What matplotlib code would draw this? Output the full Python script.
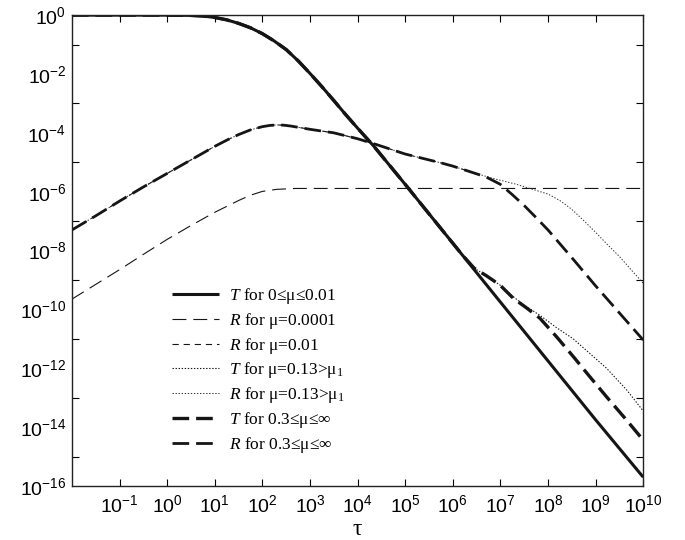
import numpy as np
import matplotlib
matplotlib.use('Agg')
import matplotlib.pyplot as plt
from matplotlib.ticker import FuncFormatter, NullFormatter, NullLocator

plt.rcParams['mathtext.fontset'] = 'custom'
plt.rcParams['mathtext.it'] = 'Liberation Serif:italic'
plt.rcParams['mathtext.default'] = 'regular'
plt.rcParams['lines.scale_dashes'] = False

# values, as log10(tau) / log10(value)
# T for 0<=mu<=0.01 (also the common start of the other T curves)
t_lx = [-2, 0, 0.5, 0.75, 1.0, 1.25, 1.5, 1.75, 2.0, 2.25, 2.5, 2.75, 3.0, 3.25, 3.5,
        3.75, 4.0, 4.35, 5.0, 6.0, 6.2, 7.0, 8.0, 9.0, 10.0]
t_ly = [0, 0, -0.01, -0.03, -0.08, -0.16, -0.28, -0.43, -0.63, -0.88, -1.17, -1.55, -1.98,
        -2.43, -2.9, -3.38, -3.84, -4.47, -5.75, -7.75, -8.15, -9.75, -11.75, -13.75, -15.7]
n_common_t = 21  # points up to log tau = 6.2

# T for mu=0.13 and for mu>=0.3, after they leave the solid curve
t13_lx = [6.2, 6.45, 6.7, 6.99, 7.27, 7.55, 7.83, 8.18, 8.53, 8.88, 9.23, 9.65, 10.0]
t13_ly = [-8.15, -8.6, -8.85, -9.17, -9.57, -9.91, -10.2, -10.62, -11.0, -11.5, -12.0, -12.73, -13.45]
t3_lx = [6.2, 6.45, 6.7, 6.99, 7.27, 7.55, 7.83, 8.18, 8.53, 8.88, 9.23, 9.65, 10.0]
t3_ly = [-8.15, -8.6, -8.85, -9.17, -9.62, -9.95, -10.3, -10.93, -11.6, -12.29, -12.97, -13.76, -14.44]

# R for mu=0.0001
r4_lx = [-2, -1.5, -1, -0.5, 0, 0.5, 1.0, 1.25, 1.5, 1.75, 2.0, 2.3, 2.7, 10.0]
r4_ly = [-9.65, -9.15, -8.65, -8.13, -7.62, -7.15, -6.7, -6.5, -6.3, -6.12, -5.99, -5.92, -5.89, -5.89]

# upper R curve shared by mu=0.01, 0.13 and >=0.3
r_lx = [-2, -1.5, -1, -0.5, 0, 0.5, 1.0, 1.25, 1.5, 1.75, 2.0, 2.15, 2.3, 2.45, 2.6, 3.0,
        3.5, 4.0, 4.4, 5.0, 5.4, 5.75, 6.0, 6.4]
r_ly = [-7.3, -6.82, -6.32, -5.84, -5.38, -4.92, -4.46, -4.25, -4.06, -3.9, -3.79, -3.75,
        -3.73, -3.74, -3.77, -3.88, -4.0, -4.2, -4.4, -4.72, -4.88, -5.02, -5.13, -5.34]

# tails of R
r13_lx = [6.4, 6.85, 7.34, 7.76, 8.0, 8.25, 8.5, 8.75, 9.0, 9.25, 9.5, 9.75, 10.0]
r13_ly = [-5.34, -5.55, -5.75, -5.96, -6.08, -6.3, -6.6, -6.98, -7.38, -7.8, -8.2, -8.66, -9.11]
r3_lx = [6.4, 6.7, 7.0, 7.25, 7.5, 7.75, 8.0, 8.5, 9.0, 10.0]
r3_ly = [-5.34, -5.5, -5.75, -6.1, -6.47, -6.88, -7.3, -8.24, -9.2, -11.04]


def pts(lx, ly):
    return 10.0 ** np.array(lx, float), 10.0 ** np.array(ly, float)


ink = '#151515'
fig = plt.figure(figsize=(6.85, 5.4), dpi=100)
ax = fig.add_axes([0.105, 0.1, 0.834, 0.872])

# full curves (common start + own tail)
x_t, y_t = pts(t_lx, t_ly)
x_t13, y_t13 = pts(t_lx[:n_common_t] + t13_lx[1:], t_ly[:n_common_t] + t13_ly[1:])
x_t3, y_t3 = pts(t_lx[:n_common_t] + t3_lx[1:], t_ly[:n_common_t] + t3_ly[1:])
x_r4, y_r4 = pts(r4_lx, r4_ly)
x_r1, y_r1 = pts(r_lx, r_ly)
x_r13, y_r13 = pts(r_lx + r13_lx[1:], r_ly + r13_ly[1:])
x_r3, y_r3 = pts(r_lx + r3_lx[1:], r_ly + r3_ly[1:])

h2, = ax.plot(x_r4, y_r4, color=ink, lw=0.8, dashes=(10, 5))
h3, = ax.plot(x_r1, y_r1, color=ink, lw=0.8, dashes=(4.5, 3.5))
h4, = ax.plot(x_t13, y_t13, color=ink, lw=0.8, dashes=(1, 1.2))
h5, = ax.plot(x_r13, y_r13, color='#333333', lw=0.7, dashes=(1, 1.2))
h6, = ax.plot(x_t3, y_t3, color=ink, lw=2.4, dashes=(12, 5))
h7, = ax.plot(x_r3, y_r3, color=ink, lw=2.0, dashes=(12, 5))
h1, = ax.plot(x_t, y_t, color=ink, lw=2.2, solid_capstyle='butt')

ax.set_xscale('log')
ax.set_yscale('log')
ax.set_xlim(1e-2, 1e10)
ax.set_ylim(1e-16, 1)

sup = FuncFormatter(lambda v, p: r'$10^{%d}$' % int(round(np.log10(v))))
ax.set_xticks([10.0 ** k for k in range(-1, 11)])
ax.xaxis.set_minor_locator(NullLocator())
ax.xaxis.set_major_formatter(sup)
ax.set_yticks([10.0 ** k for k in range(-16, 1, 2)])
ax.set_yticks([10.0 ** k for k in range(-15, 0, 2)], minor=True)
ax.yaxis.set_major_formatter(sup)
ax.yaxis.set_minor_formatter(NullFormatter())

ax.tick_params(axis='x', which='major', direction='in', top=True, length=5, width=0.8,
               pad=6, labelsize=14)
ax.tick_params(axis='y', which='major', length=0, pad=4, labelsize=14)
ax.tick_params(axis='y', which='minor', direction='in', right=True, length=5, width=0.8)
for lab in ax.get_xticklabels() + ax.get_yticklabels():
    lab.set_fontfamily('Liberation Sans')
for s in ax.spines.values():
    s.set_linewidth(1.0)
    s.set_color('#222222')

ax.set_xlabel('τ', fontsize=17, family='Liberation Serif', labelpad=2)

labels = [r'$\mathit{T}$ for 0≤μ≤0.01',
          r'$\mathit{R}$ for μ=0.0001',
          r'$\mathit{R}$ for μ=0.01',
          r'$\mathit{T}$ for μ=0.13>μ$_1$',
          r'$\mathit{R}$ for μ=0.13>μ$_1$',
          r'$\mathit{T}$ for 0.3≤μ≤∞',
          r'$\mathit{R}$ for 0.3≤μ≤∞']
ax.legend([h1, h2, h3, h4, h5, h6, h7], labels, loc='upper left',
          bbox_to_anchor=(0.175, 0.425), frameon=False, borderpad=0, borderaxespad=0,
          handlelength=2.7, handletextpad=0.6, labelspacing=0.28,
          prop={'family': 'Liberation Serif', 'size': 12.5})

plt.savefig('out.png', dpi=100)
